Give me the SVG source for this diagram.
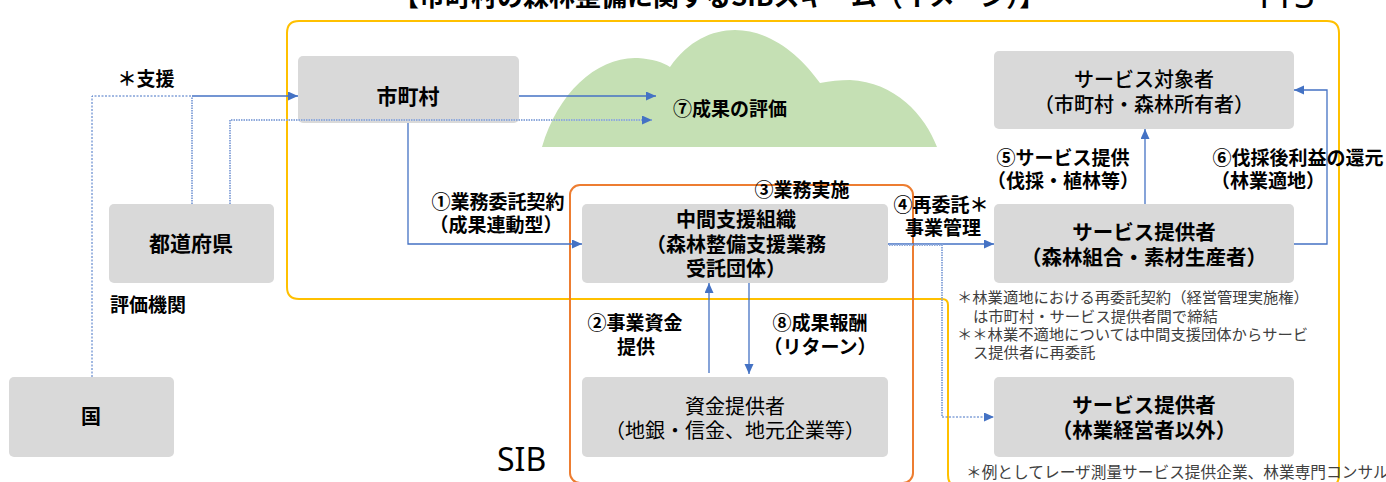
<svg xmlns="http://www.w3.org/2000/svg" width="1386" height="482" viewBox="0 0 1386 482">
<defs>
<marker id="ah" markerUnits="userSpaceOnUse" markerWidth="11" markerHeight="10" refX="10" refY="4.5" orient="auto">
<path d="M0,0 L10,4.5 L0,9 z" fill="#4472C4"/>
</marker>
<style>
.box{fill:#D9D9D9;}
.t{font-family:"Noto Sans CJK JP","Noto Sans",sans-serif;fill:#000;text-anchor:middle;}
.b{font-weight:700;}
.n{font-size:20px;}
.lab{font-family:"Noto Sans CJK JP",sans-serif;font-size:19px;font-weight:700;fill:#000;text-anchor:middle;}
.note{font-family:"Noto Sans CJK JP",sans-serif;font-size:15.3px;fill:#404040;}
.solid{fill:none;stroke:#4472C4;stroke-width:1.3;}
.dot{fill:none;stroke:#4472C4;stroke-width:1;stroke-dasharray:2 1.5;}
.ldot{fill:none;stroke:#8FAADC;stroke-width:2;stroke-dasharray:1.5 1;}
</style>
</defs>
<rect width="1386" height="482" fill="#fff"/>
<!-- clipped title -->
<text x="393" y="6" style="font-family:'Noto Sans CJK JP',sans-serif;font-size:26px;font-weight:700;fill:#000">【市町村の森林整備に関するSIBスキーム（イメージ）】</text>
<text x="1253" y="8" style="font-family:'Noto Sans','Noto Sans CJK JP',sans-serif;font-size:36px;fill:#000">113</text>
<!-- frames -->
<g id="frames">
<path d="M287,33 Q287,21 299,21 H1327 Q1339,21 1339,33 V475 Q1339,487 1327,487 H960 Q948,487 948,475 V305 Q948,299 942,299 H299 Q287,299 287,287 Z" fill="none" stroke="#FFC000" stroke-width="2"/>
<rect x="570" y="185" width="343" height="298" rx="10" fill="none" stroke="#ED7D31" stroke-width="2"/>
</g>
<!-- cloud -->
<g id="cloud">
<path d="M542,147 C558,92 598,56 638,58 C652,59 663,62 670,67 C688,41 712,30 735,30 C770,30 800,55 820,83 C830,81 840,80 850,80 C895,82 925,115 937,147 Z" fill="#C5E0B4"/>
<text class="lab" x="730" y="116">⑦成果の評価</text>
</g>
<!-- nodes -->
<g id="n-shichoson"><rect class="box" x="298" y="56" width="221" height="67" rx="5"/><text class="t b" x="408" y="104" style="font-size:21px">市町村</text></g>
<g id="n-todofuken"><rect class="box" x="109" y="204" width="165" height="79" rx="5"/><text class="t b" x="191" y="251" style="font-size:21px">都道府県</text></g>
<g id="n-kuni"><rect class="box" x="9" y="377" width="165" height="80" rx="5"/><text class="t b n" x="91" y="424">国</text></g>
<g id="n-chukan"><rect class="box" x="582" y="204" width="306" height="79" rx="5"/>
<text class="t b n" x="736" y="227">中間支援組織</text>
<text class="t b n" x="736" y="251.5">（森林整備支援業務</text>
<text class="t b n" x="736" y="276">受託団体）</text></g>
<g id="n-shikin"><rect class="box" x="582" y="377" width="306" height="80" rx="5"/>
<text class="t n" x="735" y="413.5">資金提供者</text>
<text class="t n" x="735" y="437.5">（地銀・信金、地元企業等）</text></g>
<g id="n-taisho"><rect class="box" x="994" y="51" width="300" height="78" rx="5"/>
<text class="t n" x="1144" y="86.5" style="font-weight:500">サービス対象者</text>
<text class="t n" x="1144" y="111.5" style="font-weight:500">（市町村・森林所有者）</text></g>
<g id="n-teikyo1"><rect class="box" x="994" y="204" width="300" height="79" rx="5"/>
<text class="t b" x="1144" y="239.5" style="font-size:20.5px">サービス提供者</text>
<text class="t b" x="1144" y="264.5" style="font-size:20.5px">（森林組合・素材生産者）</text></g>
<g id="n-teikyo2"><rect class="box" x="994" y="377" width="300" height="80" rx="5"/>
<text class="t b" x="1144" y="412.5" style="font-size:20.5px">サービス提供者</text>
<text class="t b" x="1144" y="437.5" style="font-size:20.5px">（林業経営者以外）</text></g>
<!-- connectors -->
<g id="connectors">
<path class="dot" d="M92,377 V96 H192"/>
<path class="ldot" d="M192,204 V97"/>
<path class="solid" d="M192,96 H298" marker-end="url(#ah)"/>
<path class="ldot" d="M230,204 V120 H652" marker-end="url(#ah)"/>
<path class="solid" d="M519,96 H656" marker-end="url(#ah)"/>
<path class="solid" d="M408,123 V244 H582" marker-end="url(#ah)"/>
<path class="solid" d="M888,244 H994" marker-end="url(#ah)"/>
<path class="ldot" d="M889,245 H942 V417"/>
<path class="dot" d="M942,417 H994" marker-end="url(#ah)"/>
<path class="solid" d="M1145,204 V129" marker-end="url(#ah)"/>
<path class="solid" d="M1294,244 H1327 V90 H1294" marker-end="url(#ah)"/>
<path class="solid" d="M709,373 V283" marker-end="url(#ah)"/>
<path class="solid" d="M749,283 V374" marker-end="url(#ah)"/>
</g>
<!-- labels -->
<g id="labels">
<text class="lab" x="146" y="86">＊支援</text>
<text class="lab" x="148" y="312">評価機関</text>
<text class="lab" x="498" y="209">①業務委託契約</text>
<text class="lab" x="496" y="232">（成果連動型）</text>
<text class="lab" x="802" y="197">③業務実施</text>
<text class="lab" x="941" y="212">④再委託＊</text>
<text class="lab" x="943" y="235">事業管理</text>
<text class="lab" x="1063" y="165">⑤サービス提供</text>
<text class="lab" x="1063" y="188">（伐採・植林等）</text>
<text class="lab" x="1298" y="165">⑥伐採後利益の還元</text>
<text class="lab" x="1268" y="188">（林業適地）</text>
<text class="lab" x="635" y="330">②事業資金</text>
<text class="lab" x="636" y="354">提供</text>
<text class="lab" x="820" y="330">⑧成果報酬</text>
<text class="lab" x="820" y="354">（リターン）</text>
<text x="497" y="471" style="font-family:'Noto Sans',sans-serif;font-size:32px;fill:#000">SIB</text>
</g>
<!-- notes -->
<g id="notes">
<text class="note" x="957" y="303">＊林業適地における再委託契約（経営管理実施権）</text>
<text class="note" x="973" y="322">は市町村・サービス提供者間で締結</text>
<text class="note" x="957" y="340">＊＊林業不適地については中間支援団体からサービ</text>
<text class="note" x="973" y="358">ス提供者に再委託</text>
<text class="note" x="966" y="478" style="font-size:15.7px">＊例としてレーザ測量サービス提供企業、林業専門コンサル</text>
</g>
</svg>
